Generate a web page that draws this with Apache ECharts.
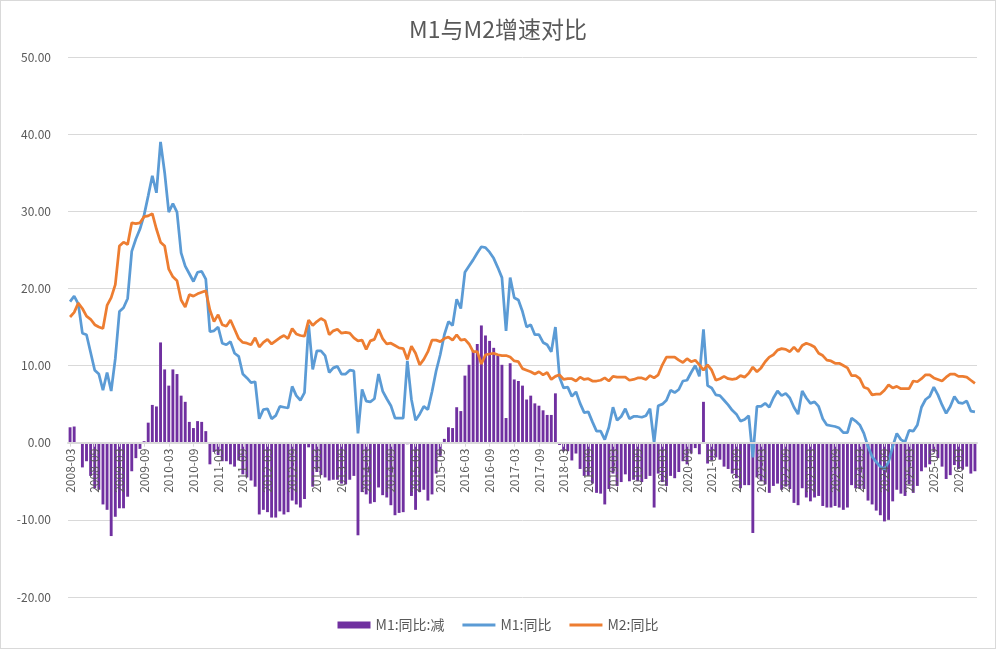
<!DOCTYPE html>
<html>
<head>
<meta charset="utf-8">
<title>M1与M2增速对比</title>
<script src="https://cdn.jsdelivr.net/npm/echarts@6/dist/echarts.min.js"></script>
<style>
  html, body { margin: 0; padding: 0; background: #fff; }
  #main { width: 994px; height: 647px; border: 1px solid #d9d9d9; }
</style>
</head>
<body>
<div id="main"></div>
<script>
// monthly categories, 2008-03 .. 2026-07
const firstYear = 2008;
const firstMonth = 3;
const monthCount = 221;

// M1 同比 (%), one row per year
const m1 = [
  18.3, 19.0, 18.0, 14.2, 14.0, 11.7, 9.4, 8.9, 6.8, 9.1,
  6.7, 10.9, 17.0, 17.5, 18.7, 24.8, 26.4, 27.7, 29.5, 32.0, 34.6, 32.4,
  39.0, 35.0, 29.9, 31.0, 29.9, 24.6, 22.9, 21.9, 20.9, 22.1, 22.2, 21.2,
  14.4, 14.5, 15.0, 12.9, 12.7, 13.1, 11.6, 11.2, 8.9, 8.4, 7.8, 7.9,
  3.1, 4.3, 4.4, 3.1, 3.5, 4.7, 4.6, 4.5, 7.3, 6.1, 5.5, 6.5,
  15.3, 9.5, 11.9, 11.9, 11.3, 9.1, 9.7, 9.9, 8.9, 8.9, 9.4, 9.3,
  1.2, 6.9, 5.4, 5.3, 5.7, 8.9, 6.7, 5.7, 4.8, 3.2, 3.2, 3.2,
  10.6, 5.6, 2.9, 3.7, 4.7, 4.3, 6.6, 9.3, 11.4, 14.0, 15.7, 15.2,
  18.6, 17.4, 22.1, 22.9, 23.7, 24.6, 25.4, 25.3, 24.7, 23.9, 22.7, 21.4,
  14.5, 21.4, 18.8, 18.5, 17.0, 15.0, 15.3, 14.0, 14.0, 13.0, 12.7, 11.8,
  15.0, 8.5, 7.1, 7.2, 6.0, 6.6, 5.1, 3.9, 4.0, 2.7, 1.5, 1.5,
  0.4, 2.0, 4.6, 2.9, 3.4, 4.4, 3.1, 3.4, 3.4, 3.3, 3.5, 4.4,
  0.0, 4.8, 5.0, 5.5, 6.8, 6.5, 6.9, 8.0, 8.1, 9.1, 10.0, 8.6,
  14.7, 7.4, 7.1, 6.2, 6.1, 5.5, 4.9, 4.2, 3.7, 2.8, 3.0, 3.5,
  -1.9, 4.7, 4.7, 5.1, 4.6, 5.8, 6.7, 6.1, 6.4, 5.8, 4.6, 3.7,
  6.7, 5.8, 5.1, 5.3, 4.7, 3.1, 2.3, 2.2, 2.1, 1.9, 1.3, 1.3,
  3.2, 2.8, 2.3, 1.2, -0.5, -1.8, -2.5, -3.1, -3.4, -2.5, -0.5, 1.2,
  0.4, 0.1, 1.6, 1.5, 2.3, 4.6, 5.6, 6.0, 7.2, 6.2, 4.9, 3.8,
  4.7, 6.0, 5.2, 5.1, 5.4, 4.1, 4.0
];

// M2 同比 (%)
const m2 = [
  16.3, 16.9, 18.1, 17.4, 16.4, 16.0, 15.3, 15.0, 14.8, 17.8,
  18.8, 20.5, 25.5, 26.0, 25.7, 28.5, 28.4, 28.5, 29.3, 29.4, 29.7, 27.7,
  26.0, 25.5, 22.5, 21.5, 21.0, 18.5, 17.6, 19.2, 19.0, 19.3, 19.5, 19.7,
  17.2, 15.7, 16.6, 15.3, 15.1, 15.9, 14.7, 13.5, 13.0, 12.9, 12.7, 13.6,
  12.4, 13.0, 13.4, 12.8, 13.2, 13.6, 13.9, 13.5, 14.8, 14.1, 13.9, 13.8,
  15.9, 15.2, 15.7, 16.1, 15.8, 14.0, 14.5, 14.7, 14.2, 14.3, 14.2, 13.6,
  13.2, 13.3, 12.1, 13.2, 13.4, 14.7, 13.5, 12.8, 12.9, 12.6, 12.3, 12.2,
  10.8, 12.5, 11.6, 10.1, 10.8, 11.8, 13.3, 13.3, 13.1, 13.5, 13.7, 13.3,
  14.0, 13.3, 13.4, 12.8, 11.8, 11.8, 10.2, 11.4, 11.5, 11.6, 11.4, 11.3,
  11.3, 11.1, 10.6, 10.5, 9.6, 9.4, 9.2, 8.9, 9.2, 8.8, 9.1, 8.2,
  8.6, 8.8, 8.2, 8.3, 8.3, 8.0, 8.5, 8.2, 8.3, 8.0, 8.0, 8.1,
  8.4, 8.0, 8.6, 8.5, 8.5, 8.5, 8.1, 8.2, 8.4, 8.4, 8.2, 8.7,
  8.4, 8.8, 10.1, 11.1, 11.1, 11.1, 10.7, 10.4, 10.9, 10.5, 10.7, 10.1,
  9.4, 10.1, 9.4, 8.1, 8.3, 8.6, 8.3, 8.2, 8.3, 8.7, 8.5, 9.0,
  9.8, 9.2, 9.7, 10.5, 11.1, 11.4, 12.0, 12.2, 12.1, 11.8, 12.4, 11.8,
  12.6, 12.9, 12.7, 12.4, 11.6, 11.3, 10.7, 10.6, 10.3, 10.3, 10.0, 9.7,
  8.7, 8.7, 8.3, 7.2, 7.0, 6.2, 6.3, 6.3, 6.8, 7.5, 7.1, 7.3,
  7.0, 7.0, 7.0, 8.0, 7.9, 8.3, 8.8, 8.8, 8.4, 8.2, 8.0, 8.5,
  8.9, 8.9, 8.6, 8.6, 8.5, 8.1, 7.7
];

// M1:同比:减 (bars, M1 minus M2 as plotted)
const m1Minus = [
  2.0, 2.1, -0.1, -3.2, -2.4, -4.3, -5.9, -6.1, -8.0, -8.7,
  -12.1, -9.6, -8.5, -8.5, -7.0, -3.7, -2.0, -0.8, 0.2, 2.6, 4.9, 4.7,
  13.0, 9.5, 7.4, 9.5, 8.9, 6.1, 5.3, 2.7, 1.9, 2.8, 2.7, 1.5,
  -2.8, -1.2, -1.6, -2.4, -2.4, -2.8, -3.1, -2.3, -4.1, -4.5, -4.9, -5.7,
  -9.3, -8.7, -9.0, -9.7, -9.7, -8.9, -9.3, -9.0, -7.5, -8.0, -8.4, -7.3,
  -0.6, -5.7, -3.8, -4.2, -4.5, -4.9, -4.8, -4.8, -5.3, -5.4, -4.8, -4.3,
  -12.0, -6.4, -6.7, -7.9, -7.7, -5.8, -6.8, -7.1, -8.1, -9.4, -9.1, -9.0,
  -0.2, -6.9, -8.7, -6.4, -6.1, -7.5, -6.7, -4.0, -1.7, 0.5, 2.0, 1.9,
  4.6, 4.1, 8.7, 10.1, 11.9, 12.8, 15.2, 13.9, 13.2, 12.3, 11.3, 10.1,
  3.2, 10.3, 8.2, 8.0, 7.4, 5.6, 6.1, 5.1, 4.8, 4.2, 3.6, 3.6,
  6.4, -0.3, -1.1, -1.1, -2.3, -1.4, -3.4, -4.3, -4.3, -5.3, -6.5, -6.6,
  -8.0, -6.0, -4.0, -5.6, -5.1, -4.1, -5.0, -4.8, -5.0, -5.1, -4.7, -4.3,
  -8.4, -4.0, -5.1, -5.6, -4.3, -4.6, -3.8, -2.4, -2.8, -1.4, -0.7, -1.5,
  5.3, -2.7, -2.3, -1.9, -2.2, -3.1, -3.4, -4.0, -4.6, -5.9, -5.5, -5.5,
  -11.7, -4.5, -5.0, -5.4, -6.5, -5.6, -5.3, -6.1, -5.7, -6.0, -7.8, -8.1,
  -5.9, -7.1, -7.6, -7.1, -6.9, -8.2, -8.4, -8.4, -8.2, -8.4, -8.7, -8.4,
  -5.5, -5.9, -6.0, -6.0, -7.5, -8.0, -8.8, -9.4, -10.2, -10.0, -7.6, -6.1,
  -6.6, -6.9, -5.4, -6.5, -5.6, -3.7, -3.2, -2.8, -1.2, -2.0, -3.1, -4.7,
  -4.2, -2.9, -3.4, -3.5, -3.1, -4.0, -3.7
];

// y axis ticks
const yMin = -20;
const yMax = 50;
const yStep = 10;

document.addEventListener('DOMContentLoaded', function() {
    var chartDom = document.getElementById('main');
    var myChart = echarts.init(chartDom);

    // build the month labels
    const months = [];
    for (let k = 0; k < monthCount; k++) {
        const t = (firstMonth - 1) + k;
        const y = firstYear + Math.floor(t / 12);
        const m = (t % 12) + 1;
        months.push(y + '-' + (m < 10 ? '0' + m : m));
    }

    const fontFam = '"Noto Sans CJK SC", "Noto Sans", sans-serif';

    // grid box, the category axis is lifted up to the zero line
    const gridTop = 56;
    const gridBottom = 51;
    const plotHeight = chartDom.clientHeight - gridTop - gridBottom;
    const zeroLift = plotHeight * (0 - yMin) / (yMax - yMin);

    // plain line icon for the legend (no circle)
    const lineIcon = 'path://M0 0H33V3H0Z';

    var option = {
        animation: false,
        textStyle: { fontFamily: fontFam },
        title: {
            text: 'M1与M2增速对比',
            left: 'center',
            top: 12,
            textStyle: { color: '#595959', fontSize: 23, fontWeight: 'normal', fontFamily: fontFam }
        },
        legend: {
            bottom: 11,
            left: 'center',
            itemWidth: 33,
            itemHeight: 7,
            itemGap: 18,
            symbolKeepAspect: true,
            textStyle: { color: '#595959', fontSize: 14, fontFamily: fontFam },
            data: [
                { name: 'M1:同比:减', icon: 'rect' },
                { name: 'M1:同比', icon: lineIcon },
                { name: 'M2:同比', icon: lineIcon }
            ]
        },
        grid: {
            left: 67,
            right: 18,
            top: gridTop,
            bottom: gridBottom,
            containLabel: false,
            outerBoundsMode: 'none'
        },
        xAxis: {
            type: 'category',
            data: months,
            boundaryGap: true,
            z: 10,
            offset: -zeroLift,
            axisLine: { onZero: false, lineStyle: { color: '#d9d9d9', width: 2 } },
            axisTick: { show: true, interval: 5, alignWithLabel: true, length: 4, lineStyle: { color: '#d9d9d9' } },
            axisLabel: { interval: 5, rotate: 90, color: '#595959', fontSize: 12, margin: 6, fontFamily: fontFam },
            splitLine: { show: false }
        },
        yAxis: {
            type: 'value',
            min: yMin,
            max: yMax,
            interval: yStep,
            axisLine: { show: false },
            axisTick: { show: false },
            axisLabel: {
                color: '#595959',
                fontSize: 12,
                margin: 17,
                fontFamily: fontFam,
                formatter: v => v.toFixed(2)
            },
            splitLine: { lineStyle: { color: '#d9d9d9', width: 1 } }
        },
        series: [
            {
                name: 'M1:同比:减',
                type: 'bar',
                data: m1Minus,
                barWidth: '70%',
                itemStyle: { color: '#7030A0' }
            },
            {
                name: 'M1:同比',
                type: 'line',
                data: m1,
                symbol: 'none',
                lineStyle: { color: '#5B9BD5', width: 2.75 },
                itemStyle: { color: '#5B9BD5' }
            },
            {
                name: 'M2:同比',
                type: 'line',
                data: m2,
                symbol: 'none',
                lineStyle: { color: '#ED7D31', width: 2.75 },
                itemStyle: { color: '#ED7D31' }
            }
        ]
    };

    option && myChart.setOption(option);
});
</script>
</body>
</html>
